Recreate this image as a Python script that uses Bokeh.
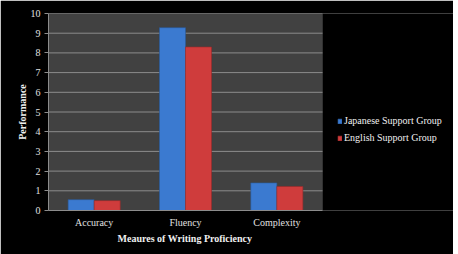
from bokeh.plotting import figure
from bokeh.models import (ColumnDataSource, Range1d, Legend, LegendItem,
                          BoxAnnotation, FixedTicker, Title)
from bokeh.transform import dodge
from bokeh.embed import file_html
from bokeh.resources import INLINE

categories = ["Accuracy", "Fluency", "Complexity"]
japanese = [0.55, 9.28, 1.40]
english = [0.50, 8.30, 1.22]
series_names = ["Japanese Support Group", "English Support Group"]
colors = ["#3b7ad0", "#cf3c3c"]
edges = ["#2a5a9a", "#9a2a2a"]
y_ticks = list(range(0, 11))
x_title = "Meaures of Writing Proficiency"
y_title = "Performance"

n = len(categories)
xpos = [i + 0.5 for i in range(n)]
src = ColumnDataSource(dict(x=xpos, cat=categories, jp=japanese, en=english))

plot_w, frame_w, area_w = 453, 405, 274
p = figure(x_range=Range1d(0, n * frame_w / area_w), y_range=Range1d(0, 10),
           width=plot_w, height=254, output_backend="svg", toolbar_location=None,
           min_border_left=48, min_border_right=0, min_border_top=13, min_border_bottom=44)
p.background_fill_color = "black"
p.border_fill_color = "black"
p.outline_line_color = None

# plot area background and gridlines restricted to the category span
p.add_layout(BoxAnnotation(left=0, right=n, fill_color="#414141", fill_alpha=1,
                           line_color="#5a5a5a", level="underlay"))
p.xgrid.grid_line_color = None
p.ygrid.grid_line_color = None
gsrc = ColumnDataSource(dict(y=y_ticks[1:]))
p.segment(x0=0, x1=n, y0="y", y1="y", source=gsrc, line_color="#8c8c8c", line_width=1)

bw = 0.285
r1 = p.vbar(x=dodge("x", -bw / 2), top="jp", width=bw, source=src,
            fill_color=colors[0], line_color=edges[0], line_width=0.6)
r2 = p.vbar(x=dodge("x", bw / 2), top="en", width=bw, source=src,
            fill_color=colors[1], line_color=edges[1], line_width=0.6)

font = "Liberation Serif"
p.yaxis.ticker = y_ticks
p.xaxis.ticker = FixedTicker(ticks=xpos)
p.xaxis.major_label_overrides = {x: c for x, c in zip(xpos, categories)}
p.xaxis.bounds = (0, n)
for ax in (p.xaxis[0], p.yaxis[0]):
    ax.major_label_text_font = font
    ax.major_label_text_font_size = "10px"
    ax.major_label_text_color = "#e0e0e0"
    ax.axis_label_text_font = font
    ax.axis_label_text_font_size = "10px"
    ax.axis_label_text_font_style = "bold"
    ax.axis_label_text_color = "#f0f0f0"
    ax.axis_line_color = "#8c8c8c"
    ax.minor_tick_line_color = None
p.yaxis.major_tick_line_color = "#8c8c8c"
p.yaxis.major_tick_out = 4
p.yaxis.major_tick_in = 0
p.yaxis.major_label_standoff = 4
p.yaxis.axis_label = y_title
p.yaxis.axis_label_standoff = 0
p.xaxis.major_tick_line_color = None
p.xaxis.major_label_standoff = 0

# x-axis title, centred under the category span
p.add_layout(Title(text=x_title, align="left", offset=69, standoff=0,
                   text_font=font, text_font_size="10px", text_font_style="bold",
                   text_color="#f0f0f0"), "below")

legend = Legend(items=[LegendItem(label=series_names[0], renderers=[r1]),
                       LegendItem(label=series_names[1], renderers=[r2])],
                location=(289, 67), orientation="vertical",
                background_fill_alpha=0, border_line_color=None,
                label_text_font=font, label_text_font_size="10px",
                label_text_color="#f0f0f0", glyph_width=5, glyph_height=6,
                label_standoff=2, spacing=6, padding=0, margin=0, label_height=10)
p.add_layout(legend, "center")

open("out.html", "w").write(file_html(p, INLINE))
